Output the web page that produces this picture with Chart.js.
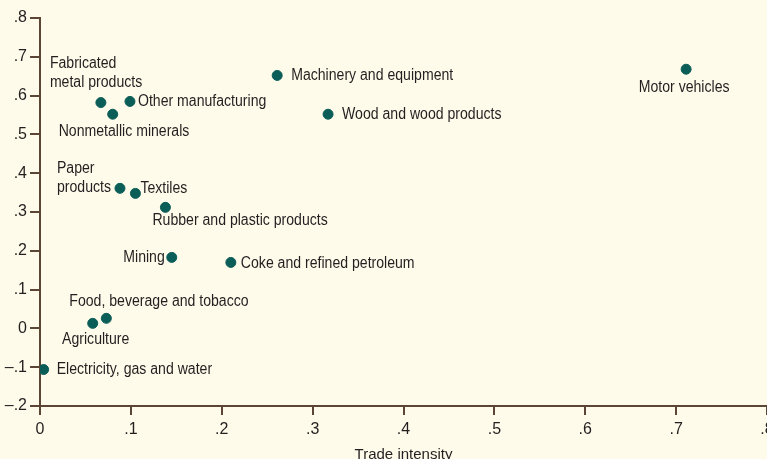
<!DOCTYPE html>
<html>
<head>
<meta charset="utf-8">
<script src="https://cdn.jsdelivr.net/npm/chart.js@4"></script>
<style>
  html, body { margin: 0; padding: 0; background: #fffbea; overflow: hidden; }
  #wrap { position: absolute; left: 0; top: 0; width: 790px; height: 468px; }
</style>
</head>
<body>
<div id="wrap"><canvas id="chart" width="790" height="468"></canvas></div>
<script>
// sectors and their values (x = trade intensity, y = vertical axis)
const sectors = [
  "Electricity, gas and water", "Agriculture", "Food, beverage and tobacco",
  "Mining", "Coke and refined petroleum", "Rubber and plastic products",
  "Textiles", "Paper products", "Nonmetallic minerals",
  "Fabricated metal products", "Other manufacturing", "Machinery and equipment",
  "Wood and wood products", "Motor vehicles"
];
const tradeIntensity = [0.004, 0.058, 0.073, 0.145, 0.210, 0.138, 0.105, 0.088, 0.080, 0.067, 0.099, 0.261, 0.317, 0.711];
const yValues = [-0.106, 0.013, 0.026, 0.183, 0.170, 0.312, 0.348, 0.361, 0.552, 0.582, 0.585, 0.652, 0.552, 0.668];
const xTicks = [0, 0.1, 0.2, 0.3, 0.4, 0.5, 0.6, 0.7, 0.8];
const yTicks = [-0.2, -0.1, 0, 0.1, 0.2, 0.3, 0.4, 0.5, 0.6, 0.7, 0.8];

// label placement next to each point: lines, dx, dy, align
const labelPlace = [
  { lines: ["Electricity, gas and water"], dx: 13, dy: 0, align: "left" },
  { lines: ["Agriculture"], dx: 3, dy: 16, align: "center" },
  { lines: ["Food, beverage and tobacco"], dx: -37, dy: -17, align: "left" },
  { lines: ["Mining"], dx: -7, dy: 0, align: "right" },
  { lines: ["Coke and refined petroleum"], dx: 10, dy: 1, align: "left" },
  { lines: ["Rubber and plastic products"], dx: -13, dy: 13, align: "left" },
  { lines: ["Textiles"], dx: 5, dy: -5, align: "left" },
  { lines: ["Paper", "products"], dx: -63, dy: -20, align: "left" },
  { lines: ["Nonmetallic minerals"], dx: -54, dy: 17, align: "left" },
  { lines: ["Fabricated", "metal products"], dx: -51, dy: -39, align: "left" },
  { lines: ["Other manufacturing"], dx: 8, dy: 0, align: "left" },
  { lines: ["Machinery and equipment"], dx: 14, dy: 0, align: "left" },
  { lines: ["Wood and wood products"], dx: 14, dy: 0, align: "left" },
  { lines: ["Motor vehicles"], dx: -2, dy: 18, align: "center" }
];

const FONT = '"Liberation Sans", Arial, sans-serif';
const axisColor = '#5b4636';
const SQUEEZE = 0.88;  // fake a condensed face

function fmt(v) {
  if (Math.abs(v) < 1e-9) return '0';
  let s = Math.abs(v).toFixed(1).replace(/^0/, '');
  return (v < 0 ? '\u2013' : '') + s;
}

const pointLabels = {
  id: 'pointLabels',
  afterDatasetsDraw(chart) {
    const ctx = chart.ctx;
    const meta = chart.getDatasetMeta(0);
    ctx.save();
    ctx.font = '16px ' + FONT;
    ctx.fillStyle = '#231f20';
    ctx.textBaseline = 'middle';
    meta.data.forEach((pt, i) => {
      const p = labelPlace[i];
      ctx.textAlign = p.align;
      p.lines.forEach((ln, k) => {
        ctx.save();
        ctx.translate(pt.x + p.dx, pt.y + p.dy + k * 19);
        ctx.scale(SQUEEZE, 1);
        ctx.fillText(ln, 0, 0);
        ctx.restore();
      });
    });
    ctx.restore();
  }
};

const data = sectors.map((s, i) => ({ x: tradeIntensity[i], y: yValues[i] }));

new Chart(document.getElementById('chart'), {
  type: 'scatter',
  data: {
    datasets: [{
      label: 'Sectors',
      data: data,
      backgroundColor: '#0b5d58',
      borderColor: '#0b5d58',
      pointRadius: 5,
      pointHoverRadius: 5
    }]
  },
  options: {
    responsive: false,
    animation: false,
    layout: { padding: { top: 18, right: 23, left: 0, bottom: 0 } },
    plugins: { legend: { display: false }, tooltip: { enabled: false } },
    scales: {
      x: {
        type: 'linear', min: 0, max: 0.8,
        afterBuildTicks: s => { s.ticks = xTicks.map(v => ({ value: v })); },
        afterFit: s => { s.height = 62; },
        grid: { display: true, drawOnChartArea: false, drawTicks: true, tickLength: 9, color: axisColor, lineWidth: 2 },
        border: { display: true, color: axisColor, width: 2 },
        ticks: { color: '#231f20', font: { family: FONT, size: 16 }, padding: 5, maxRotation: 0, callback: v => fmt(v) },
        title: { display: true, text: 'Trade intensity', color: '#231f20', font: { family: FONT, size: 15 } }
      },
      y: {
        type: 'linear', min: -0.2, max: 0.8,
        afterBuildTicks: s => { s.ticks = yTicks.map(v => ({ value: v })); },
        afterFit: s => { s.width = 40; },
        grid: { display: true, drawOnChartArea: false, drawTicks: true, tickLength: 10, color: axisColor, lineWidth: 2 },
        border: { display: true, color: axisColor, width: 2 },
        ticks: { color: '#231f20', font: { family: FONT, size: 16 }, padding: 3, callback: v => fmt(v) }
      }
    }
  },
  plugins: [pointLabels]
});
</script>
</body>
</html>
